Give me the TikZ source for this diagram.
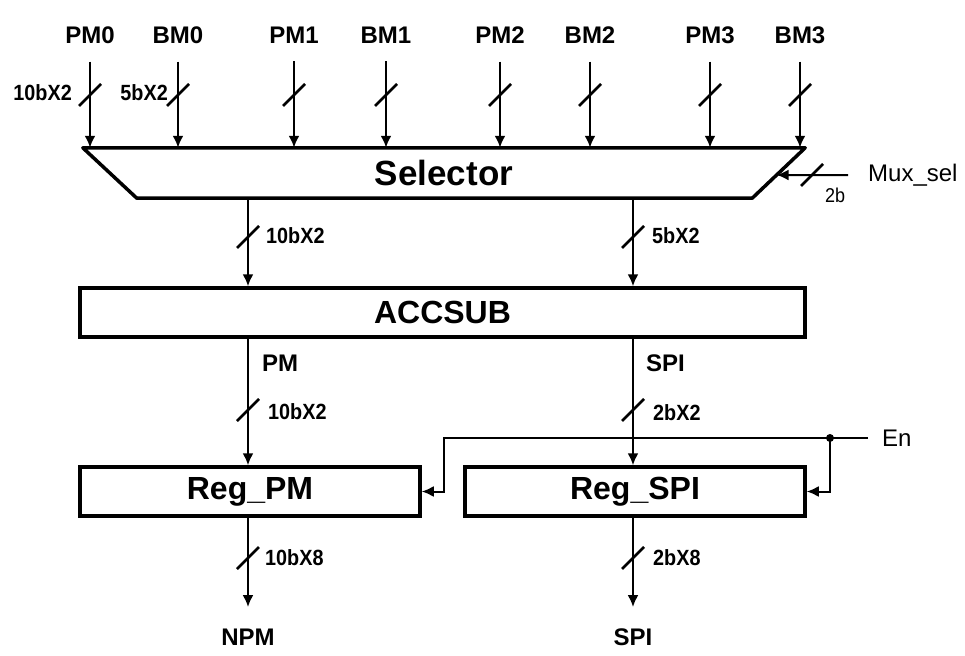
\documentclass[tikz,border=0pt]{standalone}
\usepackage{fontspec}
\setmainfont{Liberation Sans}
\newfontfamily\narrowsans[FakeStretch=0.9]{Liberation Sans}
\usetikzlibrary{arrows.meta,calc,positioning}

\tikzset{
    wire/.style={line width=2pt},
    bus/.style={line width=2.8pt, -{Latex[length=12pt,width=11pt]}},
    sbus/.style={wire, -{Latex[length=12pt,width=11pt]}},
    blk/.style={draw, fill=white, line width=3.5pt, minimum height=49pt, inner sep=0pt,
        font=\fontsize{32}{36}\selectfont\bfseries},
    inlbl/.style={inner sep=0pt, font=\fontsize{24}{28}\selectfont\bfseries},
    sig/.style={inner sep=0pt, font=\fontsize{24}{28}\selectfont},
    wlbl/.style={inner sep=0pt, anchor=west, font=\narrowsans\fontsize{22}{26}\selectfont\bfseries},
    buscut/.pic={\draw[line width=2.8pt] (-11,11) -- (11,-11);}
}

\begin{document}
\begin{tikzpicture}[x=1pt,y=-1pt]
    \useasboundingbox (0,0) rectangle (965,655);

    %Selector
    \node[inner sep=0pt, minimum width=722pt, minimum height=50pt,
        font=\fontsize{35}{40}\selectfont\bfseries] (sel) at (444,173) {Selector};
    \draw[line width=3.5pt, line join=round] (sel.north west) -- (sel.north east)
        -- ($(sel.south east)+(-53,0)$) -- ($(sel.south west)+(54,0)$) -- cycle;

    %Eingaenge
    \foreach \n/\x/\l in {pma/90/PM0, bma/178/BM0, pmb/294/PM1, bmb/386/BM1,
                          pmc/500/PM2, bmc/590/BM2, pmd/710/PM3, bmd/800/BM3} {
        \node[inlbl] (\n) at (\x,35) {\l};
        \draw[bus] ([yshift=-18pt]\n.south) -- (\n |- sel.north);
        \pic at (\x,95) {buscut};
    }
    \node[wlbl, anchor=east] (wpm) at (72,93) {10bX2};
    \node[wlbl, anchor=east] (wbm) at (168,93) {5bX2};

    %Mux_sel
    \node[sig, anchor=west] (mux) at (868,175) {Mux\_sel};
    \coordinate (muxtip) at ($(sel.north east)!0.54!($(sel.south east)+(-53,0)$)$);
    \draw[sbus] ([xshift=-20pt]mux.west) -- (muxtip);
    \pic at (812,175) {buscut};
    \node[inner sep=0pt, anchor=west, font=\narrowsans\fontsize{20}{22}\selectfont] (wmux) at (825,195) {2b};

    %ACCSUB
    \node[blk, minimum width=725pt] (acc) at (442.5,312.5) {ACCSUB};
    \coordinate (lanea) at (248,0);
    \coordinate (laneb) at (633,0);
    \draw[sbus] (sel.south -| lanea) -- (acc.north -| lanea);
    \draw[sbus] (sel.south -| laneb) -- (acc.north -| laneb);
    \pic at (248,237) {buscut};
    \pic at (633,237) {buscut};
    \node[wlbl] (wsa) at (266,236) {10bX2};
    \node[wlbl] (wsb) at (652,236) {5bX2};

    %Register
    \node[blk, minimum width=340pt] (regpm) at (250,491.5) {Reg\_PM};
    \node[blk, minimum width=340pt] (regspi) at (635,491.5) {Reg\_SPI};
    \draw[sbus] (acc.south -| lanea) -- (regpm.north -| lanea);
    \draw[sbus] (acc.south -| laneb) -- (regspi.north -| laneb);
    \node[inlbl, anchor=west] (pmsig) at (262,363) {PM};
    \node[inlbl, anchor=west] (spisig) at (646,363) {SPI};
    \pic at (248,410) {buscut};
    \pic at (633,410) {buscut};
    \node[wlbl] (wra) at (268,412) {10bX2};
    \node[wlbl] (wrb) at (653,413) {2bX2};

    %Enable
    \node[sig, anchor=west] (en) at (882,438) {En};
    \coordinate (endot) at (830,438);
    \draw[sbus] ([xshift=-14pt]en.west) -| ($(regpm.east)+(22,0)$) -- (regpm.east);
    \draw[sbus] (endot) |- (regspi.east);
    \fill (endot) circle[radius=4pt];

    %Ausgaenge
    \coordinate (npmtip) at (248,607);
    \coordinate (spitip) at (633,607);
    \draw[sbus] (regpm.south -| lanea) -- (npmtip);
    \draw[sbus] (regspi.south -| laneb) -- (spitip);
    \pic at (248,558) {buscut};
    \pic at (633,558) {buscut};
    \node[wlbl] (woa) at (265,558) {10bX8};
    \node[wlbl] (wob) at (653,558) {2bX8};
    \node[inlbl, below=22pt of npmtip] (npm) {NPM};
    \node[inlbl, below=22pt of spitip] (spiout) {SPI};
\end{tikzpicture}
\end{document}
